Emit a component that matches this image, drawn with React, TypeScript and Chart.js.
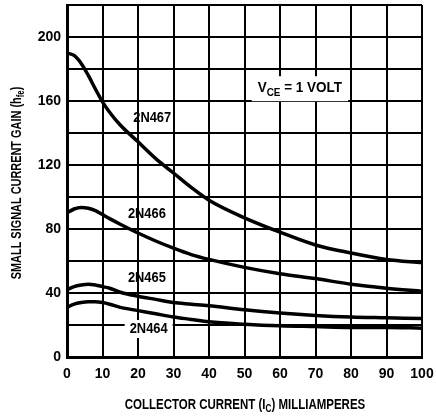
import React, { useEffect, useRef } from "react";
import { Chart, registerables } from "chart.js";

Chart.register(...registerables);

const currentMA = [0, 2, 4, 6, 8, 10, 12, 15, 20, 25, 30, 35, 40, 50, 60, 70, 80, 90, 100];
const gain2N467 = [190, 188.5, 183.5, 176, 167.5, 159.5, 153, 145, 134.5, 124, 115, 106, 98, 87, 78, 70, 65, 61, 59];
const gain2N466 = [90, 92.5, 93.5, 93, 91.5, 89, 86.5, 83, 77.5, 72.5, 68, 64, 61, 56, 52, 49, 45.5, 43, 41];
const gain2N465 = [42, 44, 45, 45.5, 45, 44, 43, 40.5, 38, 36, 34, 33, 32, 29.5, 27.5, 26, 25, 24.5, 24];
const gain2N464 = [31, 33, 34, 34.5, 34.5, 34, 33, 31, 29, 27, 25, 23.5, 22, 20.5, 19.5, 19, 18.5, 18.5, 18];

const seriesNames = ["2N467", "2N466", "2N465", "2N464"];
const seriesValues = [gain2N467, gain2N466, gain2N465, gain2N464];
// label anchor positions in data units [x, y]
const labelX = [24, 22.5, 22.5, 23];
const labelY = [149, 89, 49, 17.5];
const labelBoxed = [false, false, false, true];

const xTickStep = 10;
const yTickStep = 20;
const yLabelStep = 40;
const yMax = 220;
const yLabelMax = 200;

const FONT = '"Liberation Sans", Arial, sans-serif';

type Part = { t: string; sub?: boolean };

function fontFor(p: Part, size: number) {
  return `bold ${p.sub ? Math.round(size * 0.7) : size}px ${FONT}`;
}

function measureParts(ctx: CanvasRenderingContext2D, parts: Part[], size: number) {
  let w = 0;
  for (const p of parts) {
    ctx.font = fontFor(p, size);
    w += ctx.measureText(p.t).width;
  }
  return w;
}

function drawParts(
  ctx: CanvasRenderingContext2D,
  parts: Part[],
  cx: number,
  cy: number,
  size: number,
  sx: number
) {
  const w = measureParts(ctx, parts, size);
  ctx.save();
  ctx.translate(cx, cy);
  ctx.scale(sx, 1);
  let x = -w / 2;
  ctx.textAlign = "left";
  ctx.textBaseline = "middle";
  ctx.fillStyle = "#000";
  for (const p of parts) {
    ctx.font = fontFor(p, size);
    ctx.fillText(p.t, x, p.sub ? size * 0.3 : 0);
    x += ctx.measureText(p.t).width;
  }
  ctx.restore();
  return w * sx;
}

const annotPlugin = {
  id: "annot",
  afterDatasetsDraw(chart: any) {
    const ctx: CanvasRenderingContext2D = chart.ctx;
    const xs = chart.scales.x;
    const ys = chart.scales.y;
    ctx.save();
    seriesNames.forEach((name, i) => {
      const px = xs.getPixelForValue(labelX[i]);
      const py = ys.getPixelForValue(labelY[i]);
      const parts: Part[] = [{ t: name }];
      const w = measureParts(ctx, parts, 14) * 0.92;
      if (labelBoxed[i]) {
        ctx.fillStyle = "#fff";
        ctx.fillRect(px - w / 2 - 5, py - 9, w + 10, 18);
      }
      drawParts(ctx, parts, px, py, 14, 0.92);
    });
    const vx = xs.getPixelForValue(65.6);
    const vy = ys.getPixelForValue(168);
    const vparts: Part[] = [{ t: "V" }, { t: "CE", sub: true }, { t: " = 1 VOLT" }];
    const vw = measureParts(ctx, vparts, 15) * 0.9;
    ctx.fillStyle = "#fff";
    ctx.fillRect(vx - vw / 2 - 6, vy - 12, vw + 12, 25);
    drawParts(ctx, vparts, vx, vy, 15, 0.9);
    ctx.restore();
  },
  afterDraw(chart: any) {
    const ctx: CanvasRenderingContext2D = chart.ctx;
    ctx.save();
    drawParts(
      ctx,
      [{ t: "COLLECTOR CURRENT (I" }, { t: "C", sub: true }, { t: ") MILLIAMPERES" }],
      245,
      405,
      14,
      0.82
    );
    ctx.translate(17, 183);
    ctx.rotate(-Math.PI / 2);
    drawParts(
      ctx,
      [{ t: "SMALL SIGNAL CURRENT GAIN (h" }, { t: "fe", sub: true }, { t: ")" }],
      0,
      0,
      14,
      0.78
    );
    ctx.restore();
  },
};

export default function App() {
  const ref = useRef<HTMLCanvasElement | null>(null);
  useEffect(() => {
    document.body.style.margin = "0";
    if (!ref.current) return;
    const chart = new Chart(ref.current, {
      type: "line",
      data: {
        datasets: seriesNames.map((name, i) => ({
          label: name,
          data: currentMA.map((x, j) => ({ x, y: seriesValues[i][j] })),
          borderColor: "#000",
          borderWidth: 3.5,
          pointRadius: 0,
          fill: false,
          cubicInterpolationMode: "monotone" as const,
        })),
      },
      options: {
        responsive: false,
        animation: false,
        devicePixelRatio: 1,
        layout: { padding: { top: 5, right: 14, left: 0, bottom: 0 } },
        plugins: { legend: { display: false }, tooltip: { enabled: false } },
        scales: {
          x: {
            type: "linear",
            min: 0,
            max: 100,
            afterFit: (s: any) => {
              s.height = 59;
              s.paddingRight = 0;
            },
            ticks: {
              stepSize: xTickStep,
              color: "#000",
              padding: 9,
              maxRotation: 0,
              font: { family: FONT, size: 14, weight: "bold" },
            },
            grid: { color: "#000", lineWidth: 2, drawTicks: false },
            border: { color: "#000", width: 3 },
          },
          y: {
            min: 0,
            max: yMax,
            afterFit: (s: any) => {
              s.width = 67;
              s.paddingTop = 0;
            },
            ticks: {
              stepSize: yTickStep,
              color: "#000",
              padding: 6,
              font: { family: FONT, size: 14, weight: "bold" },
              callback: (v: any) => (v % yLabelStep === 0 && v <= yLabelMax ? String(v) : ""),
            },
            grid: { color: "#000", lineWidth: 2, drawTicks: false },
            border: { color: "#000", width: 3 },
          },
        },
      },
      plugins: [annotPlugin],
    } as any);
    const fonts: any = (document as any).fonts;
    if (fonts && fonts.load) {
      fonts
        .load(`bold 14px ${FONT}`)
        .then(() => {
          try {
            chart.update();
          } catch (e) {}
        })
        .catch(() => null);
    }
    return () => chart.destroy();
  }, []);
  return (
    <div style={{ width: 436, height: 416, background: "#fff" }}>
      <canvas ref={ref} width={436} height={416} style={{ display: "block" }} />
    </div>
  );
}
